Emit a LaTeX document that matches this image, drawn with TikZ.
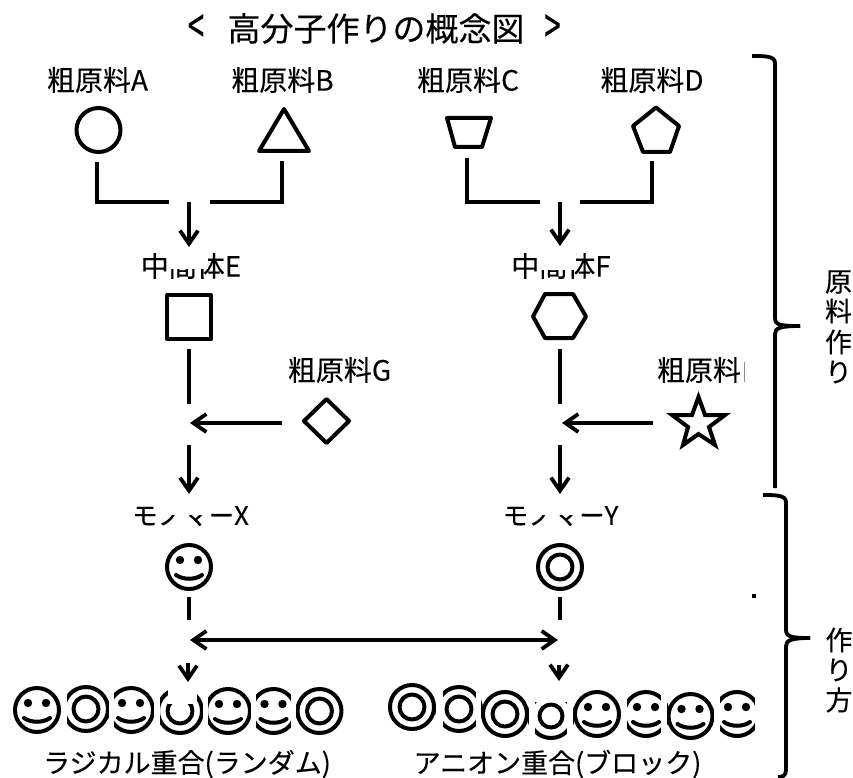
\documentclass[tikz,border=0pt]{standalone}
\usepackage{fontspec}
\setmainfont[FakeBold=0.2]{Noto Sans CJK JP}
\usetikzlibrary{arrows.meta}
\newcommand{\fs}[1]{\fontsize{#1}{#1}\selectfont}
\tikzset{
  x=1pt,y=-1pt,
  lab/.style={inner sep=0pt,font=\fs{28}},
  ttl/.style={inner sep=0pt,font=\fs{33}},
  vert/.style={inner sep=0pt,font=\fs{27}},
  shdw/.style={preaction={draw=black!25,transform canvas={shift={(0.8pt,-1.6pt)}}}},
  shape line/.style={draw=black,line width=4pt,line join=round,shdw},
  conn/.style={draw=black,line width=4.2pt},
  flow/.style={draw=black,line width=3.8pt},
  barb/.tip={Straight Barb[length=13pt,width=18pt,line width=3.8pt]},
  arr/.style={flow,-barb},
  brk/.style={draw=black,line width=3.8pt,shdw},
  mask/.style={fill=white,draw=none},
  pics/face/.style={code={
    \draw[shape line] (0,0) circle (22);
    \fill[black] (-9,-7) circle (4.2) (9,-7) circle (4.2);
    \draw[shape line,line cap=round] (-13,8) .. controls (-6,13) and (6,13) .. (13,8);
  }},
  pics/target/.style={code={
    \draw[shape line] (0,0) circle (22);
    \draw[shape line] (0,0) circle (12.5);
  }},
  pics/smalltarget/.style={code={
    \draw[shape line] (0,0) circle (22);
    \draw[shape line] (0,0) circle (11.5);
  }},
}
\begin{document}
\begin{tikzpicture}
\useasboundingbox (0,0) rectangle (853,778);
% title
\node[ttl] (tl) at (196,29) {\scalebox{0.9}[1.5]{<}};
\node[ttl] (title) at (376,28.5) {高分子作りの概念図};
\node[ttl] (tr) at (552.5,29) {\scalebox{0.9}[1.5]{>}};
% labels of raw materials
\node[lab] (la) at (97.5,80) {粗原料A};
\node[lab] (lb) at (282.5,80) {粗原料B};
\node[lab] (lc) at (468,80) {粗原料C};
\node[lab] (ld) at (652,80) {粗原料D};
% shapes
\node[circle,minimum size=44pt,inner sep=0pt] (sa) at (98.5,130) {};
\draw[shape line] (sa.center) circle (22);
\coordinate (sb) at (284,130);
\draw[shape line] (284,109) -- (309,151) -- (259,151) -- cycle;
\coordinate (sc) at (469,132);
\draw[shape line] (447,118) -- (491,118) -- (482,147) -- (455,147) -- cycle;
\coordinate (sd) at (656,130);
\draw[shape line] (656,107.5) -- (679,126) -- (670,152) -- (643,152) -- (633,126) -- cycle;
% merge connectors left
\coordinate (ca1) at (97,162); \coordinate (ca2) at (97,202); \coordinate (ca3) at (169,202);
\coordinate (cb1) at (282,161); \coordinate (cb2) at (282,202); \coordinate (cb3) at (210,202);
\draw[conn] (ca1) -- (ca2) -- (ca3);
\draw[conn] (cb1) -- (cb2) -- (cb3);
\coordinate (cc1) at (467,158); \coordinate (cc2) at (467,202); \coordinate (cc3) at (540,202);
\coordinate (cd1) at (652,161); \coordinate (cd2) at (652,202); \coordinate (cd3) at (580,202);
\draw[conn] (cc1) -- (cc2) -- (cc3);
\draw[conn] (cd1) -- (cd2) -- (cd3);
% intermediates
\node[lab] (le) at (191,266) {中間体E};
\node[lab] (lf) at (561,266) {中間体F};
\fill[mask] (168,240) rectangle (208,268.5);
\fill[mask] (540,240) rectangle (576,270);
\coordinate (ae1) at (189,202); \coordinate (ae2) at (189,247);
\coordinate (af1) at (560,202); \coordinate (af2) at (560,246);
\draw[arr] (ae1) -- (ae2);
\draw[arr] (af1) -- (af2);
\draw[shape line] (167,295) rectangle (211,339);
\draw[shape line] (545,294) -- (573,294) -- (586,316.5) -- (573,338) -- (545,338) -- (533,316.5) -- cycle;
\coordinate (e1) at (189,349); \coordinate (e2) at (189,404);
\coordinate (f1) at (560,349); \coordinate (f2) at (560,404);
\draw[flow] (e1) -- (e2);
\draw[flow] (f1) -- (f2);
% raw G / H
\node[lab] (lg) at (339.5,370) {粗原料G};
\node[lab] (lh) at (699,370) {粗原料};
\fill[black!45] (744,362) rectangle (744.8,382);
\draw[shape line] (326.5,399) -- (349,421) -- (326.5,443) -- (304,421) -- cycle;
\draw[shape line,line join=miter] (698.5,397) -- (705,415) -- (725,415) -- (709,427) -- (715,445) -- (698.5,434) -- (683,445) -- (688,427) -- (672,415) -- (692,415) -- cycle;
\coordinate (g1) at (282,423); \coordinate (g2) at (190,423);
\coordinate (h1) at (653,423); \coordinate (h2) at (562,423);
\draw[arr] (g1) -- (g2);
\draw[arr] (h1) -- (h2);
% monomers
\node[lab,font=\fs{25.5}] (mx) at (190.5,516) {モノマーX};
\node[lab,font=\fs{25.5}] (my) at (560.5,516) {モノマーY};
\fill[mask] (158,480) rectangle (207,514.5);
\fill[mask] (528,480) rectangle (579,514.5);
\coordinate (x1) at (189,445); \coordinate (x2) at (189,494);
\coordinate (y1) at (560,445); \coordinate (y2) at (560,494);
\draw[arr] (x1) -- (x2);
\draw[arr] (y1) -- (y2);
\pic at (189,567) {face};
\pic at (560,567) {target};
\coordinate (p1) at (189,597); \coordinate (p2) at (189,620);
\coordinate (q1) at (560,597); \coordinate (q2) at (560,620);
\draw[flow] (p1) -- (p2);
\draw[flow] (q1) -- (q2);
\coordinate (d1) at (190,640); \coordinate (d2) at (558,640);
\draw[flow,barb-barb] (d1) -- (d2);
\coordinate (s1) at (188,663); \coordinate (s2) at (188,682);
\coordinate (t1) at (559,665); \coordinate (t2) at (559,681);
\draw[arr] (s1) -- (s2);
\draw[arr] (t1) -- (t2);
% polymer rows
\pic at (37,710) {face};
\pic at (86,709) {target};
\pic at (131,710) {face};
\pic at (180,711) {target};
\pic at (228,711) {face};
\pic at (273.5,711) {face};
\pic at (319.5,711) {target};
\pic at (412,707) {target};
\pic at (459,709) {target};
\pic at (505,714) {target};
\pic at (551,716) {smalltarget};
\pic at (597,714) {face};
\pic at (646,714) {face};
\pic at (690.5,716) {face};
\pic at (737,714) {face};
\fill[mask] (60.5,684) rectangle (67,745);
\fill[mask] (108.5,684) rectangle (114,745);
\fill[mask] (153.5,684) rectangle (160,745);
\fill[mask] (202.5,684) rectangle (208,745);
\fill[mask] (250.5,684) rectangle (256,745);
\fill[mask] (291,684) rectangle (296,745);
\fill[mask] (168,684) rectangle (197,704);
\fill[mask] (436,684) rectangle (443,745);
\fill[mask] (476,684) rectangle (481,745);
\fill[mask] (529,684) rectangle (535,745);
\fill[mask] (567,684) rectangle (573,745);
\fill[mask] (535,684) rectangle (567,702);
\fill[mask] (620.5,684) rectangle (627,745);
\fill[mask] (661,684) rectangle (667,745);
\fill[mask] (714,684) rectangle (720,745);
\fill[mask] (755,684) rectangle (765,745);
\node[lab,font=\fs{27}] (pl) at (187,764) {ラジカル重合(ランダム)};
\node[lab,font=\fs{27}] (pr) at (557.5,764) {アニオン重合(ブロック)};
% stray dot
\fill[black] (752,594) rectangle (756,598);
% brackets
\coordinate (b1) at (752,56); \coordinate (b2) at (800,326); \coordinate (b3) at (775,488);
\draw[brk] (b1) .. controls (765,56) and (775,56) .. (775,63) -- (775,318)
  .. controls (775,325) and (780,326) .. (b2);
\draw[brk] (b2) .. controls (780,326) and (775,328) .. (775,334) -- (b3);
\coordinate (c1) at (763,495); \coordinate (c2) at (810,638); \coordinate (c3) at (778,777);
\draw[brk] (c1) .. controls (775,495) and (786,495) .. (786,502) -- (786,630)
  .. controls (786,637) and (792,638) .. (c2);
\draw[brk] (c2) .. controls (792,638) and (786,640) .. (786,646) -- (786,770) .. controls (786,776) and (782,777) .. (c3);
% vertical texts
\node[vert] (v1) at (838.5,282) {原};
\node[vert] (v2) at (838.5,311) {料};
\node[vert] (v3) at (838.5,342) {作};
\node[vert] (v4) at (838.5,372) {り};
\node[vert] (w1) at (839,640) {作};
\node[vert] (w2) at (839,670) {り};
\node[vert] (w3) at (839,700) {方};
\end{tikzpicture}
\end{document}
